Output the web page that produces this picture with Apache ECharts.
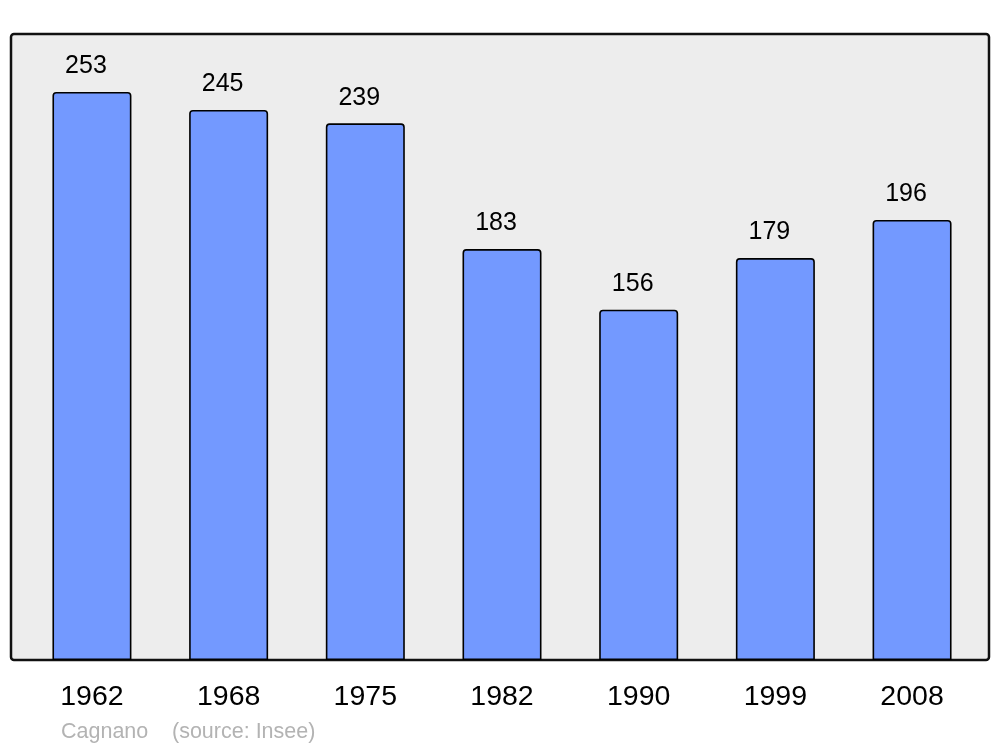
<!DOCTYPE html>
<html>
<head>
<meta charset="utf-8">
<script src="https://cdn.jsdelivr.net/npm/echarts@6/dist/echarts.min.js"></script>
<style>html,body{margin:0;padding:0;background:#fff}#c{width:1000px;height:747px}</style>
</head>
<body>
<div id="c"></div>
<script>
const years = ['1962', '1968', '1975', '1982', '1990', '1999', '2008'];
const population = [253, 245, 239, 183, 156, 179, 196];
const commune = 'Cagnano';
const source = '(source: Insee)';

const chart = echarts.init(document.getElementById('c'), null, {renderer: 'canvas'});
chart.setOption({
  animation: false,
  grid: {left: 23.6, right: 19.6, top: 34, bottom: 87},
  graphic: [
    {type: 'rect', z: -10, shape: {x: 11, y: 34, width: 978, height: 626, r: 3},
     style: {fill: '#ededed', stroke: '#111', lineWidth: 2.5}},
    {type: 'text', left: 61, top: 721, style: {text: commune, fill: '#b3b3b3', font: '21.5px "Liberation Sans", Arial, sans-serif'}},
    {type: 'text', left: 172, top: 721, style: {text: source, fill: '#b3b3b3', font: '21.5px "Liberation Sans", Arial, sans-serif'}}
  ],
  xAxis: {
    type: 'category', data: years, boundaryGap: true,
    axisLine: {show: false}, axisTick: {show: false},
    axisLabel: {color: '#000', fontSize: 28.5, fontFamily: '"Liberation Sans", Arial, sans-serif', margin: 23}
  },
  yAxis: {type: 'value', min: 0, max: 278.8, show: false, splitLine: {show: false}},
  series: [{
    type: 'bar', data: population, barWidth: 79,
    itemStyle: {color: '#7399ff', borderColor: '#000', borderWidth: 1.6, borderRadius: [3, 3, 0, 0]},
    label: {show: true, position: 'top', distance: 13, offset: [-6, 0], color: '#000', fontSize: 25,
            fontFamily: '"Liberation Sans", Arial, sans-serif'}
  }]
});
</script>
</body>
</html>
